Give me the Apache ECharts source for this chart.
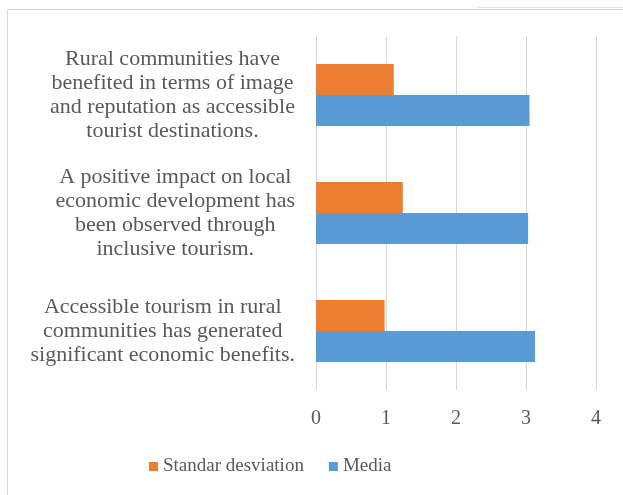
<!DOCTYPE html>
<html>
<head>
<meta charset="utf-8">
<script src="https://cdn.jsdelivr.net/npm/echarts@6/dist/echarts.min.js"></script>
<style>
  html, body { margin: 0; padding: 0; background: #fff; font-family: 'Liberation Serif', serif; }
  #chart { width: 623px; height: 495px; }
</style>
</head>
<body>
<div id="chart"></div>
<script>
// Statements, listed bottom-to-top as they appear on the vertical axis
const categories = [
  'Accessible tourism in rural\ncommunities has generated\nsignificant economic benefits.',
  'A positive impact on local\neconomic development has\nbeen observed through\ninclusive tourism.',
  'Rural communities have\nbenefited in terms of image\nand reputation as accessible\ntourist destinations.'
];
const mediaValues = [3.13, 3.03, 3.05];
const stdDevValues = [0.98, 1.24, 1.11];
const seriesNames = ['Standar desviation', 'Media'];
const xTicks = { min: 0, max: 4, interval: 1 };

const textColor = '#595959';
const gridColor = '#d9d9d9';
const serif = 'Liberation Serif';

const chart = echarts.init(document.getElementById('chart'), null, { renderer: 'canvas' });

chart.setOption({
  backgroundColor: '#ffffff',
  animation: false,
  textStyle: { fontFamily: serif },
  graphic: [
    {
      type: 'rect',
      shape: { x: 7.5, y: 9.5, width: 700, height: 600 },
      style: { fill: 'none', stroke: gridColor, lineWidth: 1 },
      silent: true
    },
    {
      type: 'line',
      shape: { x1: 477, y1: 7.5, x2: 623, y2: 7.5 },
      style: { stroke: '#e4e4e4', lineWidth: 1 },
      silent: true
    }
  ],
  legend: {
    data: seriesNames,
    left: 144,
    top: 452,
    itemWidth: 9,
    itemHeight: 9,
    itemGap: 25,
    icon: 'rect',
    textStyle: { color: textColor, fontFamily: serif, fontSize: 19 }
  },
  grid: { left: 316, right: 27, top: 36, bottom: 105, containLabel: false },
  xAxis: {
    type: 'value',
    min: xTicks.min,
    max: xTicks.max,
    interval: xTicks.interval,
    axisLine: { show: false },
    axisTick: { show: false },
    splitLine: { lineStyle: { color: gridColor, width: 1 } },
    axisLabel: { color: textColor, fontFamily: serif, fontSize: 20, margin: 19 }
  },
  yAxis: {
    type: 'category',
    data: categories,
    axisLine: { show: true, lineStyle: { color: gridColor, width: 1 } },
    axisTick: { show: false },
    axisLabel: {
      margin: 21,
      align: 'right',
      fontFamily: serif,
      formatter: function (value) {
        return value.split('\n').map(function (line) { return '{c|' + line + '}'; }).join('\n');
      },
      rich: {
        c: {
          align: 'center',
          color: textColor,
          fontFamily: serif,
          fontSize: 22,
          lineHeight: 24
        }
      }
    }
  },
  series: [
    {
      name: seriesNames[0],
      type: 'bar',
      data: stdDevValues,
      barWidth: 31,
      barGap: '0%',
      itemStyle: { color: '#ed7d31' }
    },
    {
      name: seriesNames[1],
      type: 'bar',
      data: mediaValues,
      barWidth: 31,
      barGap: '0%',
      itemStyle: { color: '#5b9bd5' }
    }
  ]
});
</script>
</body>
</html>
